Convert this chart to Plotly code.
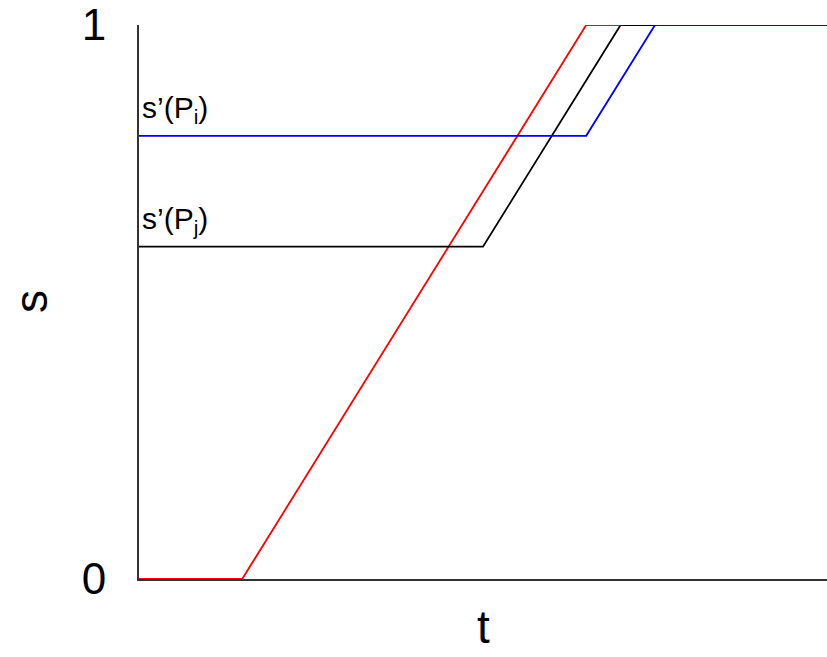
import plotly.graph_objects as go

# Data
t_red = [0, 1.5, 6.5, 10]
s_red = [0, 0, 1, 1]
t_black = [0, 5.0, 7.0, 10]
s_black = [0.6, 0.6, 1, 1]
t_blue = [0, 6.5, 7.5, 10]
s_blue = [0.8, 0.8, 1, 1]
y_ticks = [0, 1]
y_tick_labels = ["0", "1"]
label_i = "s’(P<sub>i</sub>)"
label_j = "s’(P<sub>j</sub>)"

FONT = "Liberation Sans, Arial, Helvetica, sans-serif"

fig = go.Figure()
fig.add_trace(go.Scatter(x=t_red, y=s_red, mode="lines",
                         line=dict(color="#ff0000", width=1.8), showlegend=False))
fig.add_trace(go.Scatter(x=t_black, y=s_black, mode="lines",
                         line=dict(color="#000000", width=1.8), showlegend=False))
fig.add_trace(go.Scatter(x=t_blue, y=s_blue, mode="lines",
                         line=dict(color="#0000ff", width=1.8), showlegend=False))

fig.add_annotation(x=0, y=s_blue[0], xref="x", yref="y", text=label_i,
                   showarrow=False, xanchor="left", yanchor="bottom",
                   xshift=1, yshift=6, font=dict(family=FONT, size=30, color="black"))
fig.add_annotation(x=0, y=s_black[0], xref="x", yref="y", text=label_j,
                   showarrow=False, xanchor="left", yanchor="bottom",
                   xshift=1, yshift=6, font=dict(family=FONT, size=30, color="black"))

fig.add_annotation(x=0.5, y=0, xref="paper", yref="paper", text="t",
                   showarrow=False, xanchor="center", yanchor="middle",
                   yshift=-48, font=dict(family=FONT, size=46, color="black"))
fig.add_annotation(x=0, y=0.5, xref="paper", yref="paper", text="s",
                   showarrow=False, xanchor="center", yanchor="middle",
                   xshift=-108, textangle=-90,
                   font=dict(family=FONT, size=46, color="black"))

fig.update_layout(
    width=827, height=657,
    margin=dict(l=139, r=0, t=25, b=78),
    paper_bgcolor="white", plot_bgcolor="white",
    font=dict(family=FONT, color="black"),
)
fig.update_xaxes(range=[0, 10], showgrid=False, zeroline=False,
                 showline=True, linecolor="#333333", linewidth=1.8,
                 showticklabels=False, ticks="")
fig.update_yaxes(range=[0, 1], showgrid=False, zeroline=False,
                 showline=True, linecolor="#333333", linewidth=1.8,
                 tickmode="array", tickvals=y_ticks, ticktext=y_tick_labels,
                 ticks="inside", ticklen=6, tickwidth=1.8, tickcolor="#333333",
                 ticklabelstandoff=22, ticklabeloverflow="allow",
                 tickfont=dict(family=FONT, size=44, color="black"))

fig.write_html("out.html",
               config={"displayModeBar": False},
               post_script="document.body.style.margin='0';"
                           "document.documentElement.style.overflow='hidden';")
